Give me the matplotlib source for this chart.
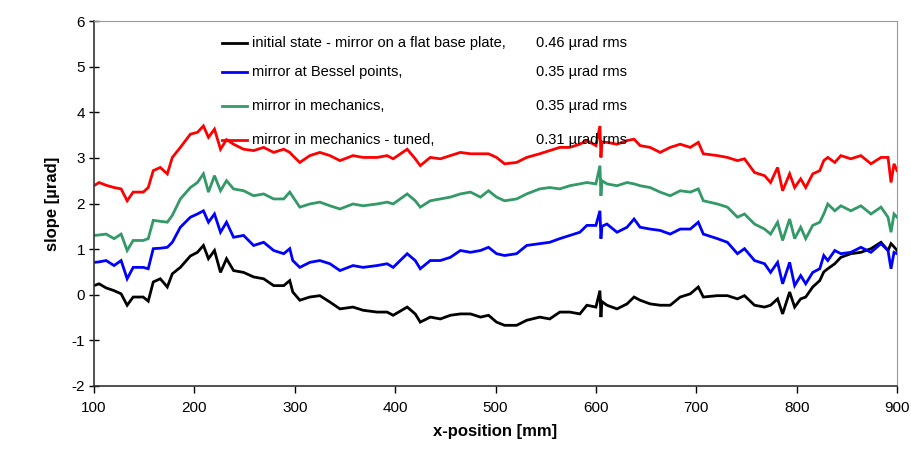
import matplotlib
matplotlib.use("Agg")
import matplotlib.pyplot as plt
from matplotlib.lines import Line2D

plt.rcParams['font.family'] = ['Liberation Sans', 'DejaVu Sans']
plt.rcParams['axes.unicode_minus'] = False

# x-position [mm]
x_pos = [100, 105, 112, 120, 127, 133, 139, 149, 154, 159,
         166, 173, 178, 186, 196, 203, 209, 214, 220, 226,
         232, 239, 249, 259, 269, 279, 289, 295, 298, 305,
         315, 325, 335, 345, 358, 368, 382, 392, 398, 412,
         420, 425, 435, 445, 455, 465, 475, 485, 493, 501,
         509, 521, 531, 544, 554, 564, 574, 584, 591, 600,
         604, 605, 606, 611, 621, 631, 638, 644, 654, 664,
         674, 684, 694, 702, 707, 721, 731, 741, 748, 758,
         768, 774, 781, 786, 793, 798, 804, 809, 816, 823,
         827, 831, 838, 844, 854, 864, 874, 884, 891, 894,
         897, 900]

# slope [urad], one list per measurement
initial = [0.20, 0.24, 0.15, 0.09, 0.02, -0.23, -0.05, -0.05, -0.14, 0.28,
           0.35, 0.17, 0.46, 0.60, 0.85, 0.93, 1.08, 0.79, 0.97, 0.49,
           0.79, 0.53, 0.49, 0.39, 0.35, 0.20, 0.20, 0.31, 0.06, -0.12,
           -0.05, -0.02, -0.16, -0.31, -0.27, -0.34, -0.38, -0.38, -0.45, -0.27,
           -0.42, -0.60, -0.49, -0.53, -0.45, -0.42, -0.42, -0.49, -0.45, -0.60,
           -0.67, -0.67, -0.56, -0.49, -0.53, -0.38, -0.38, -0.42, -0.23, -0.27,
           0.09, -0.49, -0.15, -0.23, -0.31, -0.20, -0.05, -0.12, -0.20, -0.23,
           -0.23, -0.05, 0.02, 0.17, -0.05, -0.02, -0.02, -0.09, -0.02, -0.23,
           -0.27, -0.23, -0.09, -0.42, 0.06, -0.27, -0.09, -0.05, 0.17, 0.31,
           0.50, 0.57, 0.68, 0.82, 0.90, 0.93, 1.01, 1.15, 0.97, 1.12,
           1.05, 0.97]

bessel = [0.71, 0.72, 0.75, 0.64, 0.75, 0.35, 0.60, 0.60, 0.57, 1.01,
          1.02, 1.04, 1.15, 1.48, 1.70, 1.77, 1.84, 1.59, 1.77, 1.37,
          1.59, 1.26, 1.30, 1.08, 1.15, 0.97, 0.90, 1.01, 0.75, 0.60,
          0.71, 0.75, 0.68, 0.53, 0.64, 0.60, 0.64, 0.68, 0.60, 0.90,
          0.75, 0.57, 0.75, 0.75, 0.82, 0.97, 0.93, 0.97, 1.04, 0.90,
          0.86, 0.90, 1.08, 1.12, 1.15, 1.23, 1.30, 1.37, 1.52, 1.52,
          1.84, 1.23, 1.50, 1.55, 1.37, 1.48, 1.66, 1.48, 1.44, 1.41,
          1.33, 1.44, 1.44, 1.59, 1.33, 1.23, 1.15, 0.90, 1.01, 0.75,
          0.68, 0.49, 0.71, 0.24, 0.71, 0.20, 0.42, 0.24, 0.49, 0.57,
          0.86, 0.75, 0.97, 0.90, 0.93, 1.04, 0.93, 1.12, 0.97, 0.57,
          0.93, 0.90]

mechanics = [1.30, 1.31, 1.33, 1.23, 1.33, 0.97, 1.19, 1.19, 1.23, 1.63,
             1.61, 1.59, 1.74, 2.10, 2.35, 2.46, 2.65, 2.25, 2.61, 2.28,
             2.50, 2.32, 2.28, 2.17, 2.21, 2.10, 2.10, 2.25, 2.15, 1.92,
             1.99, 2.03, 1.95, 1.88, 1.99, 1.95, 1.99, 2.03, 1.99, 2.21,
             2.06, 1.92, 2.06, 2.10, 2.14, 2.21, 2.25, 2.14, 2.28, 2.14,
             2.06, 2.10, 2.21, 2.32, 2.35, 2.32, 2.39, 2.43, 2.46, 2.43,
             2.83, 2.17, 2.50, 2.43, 2.39, 2.46, 2.43, 2.39, 2.35, 2.25,
             2.17, 2.28, 2.25, 2.32, 2.06, 1.99, 1.92, 1.70, 1.77, 1.55,
             1.44, 1.33, 1.59, 1.19, 1.66, 1.23, 1.48, 1.23, 1.52, 1.59,
             1.77, 1.99, 1.84, 1.95, 1.84, 1.95, 1.77, 1.92, 1.70, 1.37,
             1.77, 1.70]

tuned = [2.39, 2.46, 2.40, 2.35, 2.32, 2.06, 2.25, 2.25, 2.35, 2.72,
         2.79, 2.65, 3.01, 3.23, 3.52, 3.56, 3.70, 3.45, 3.63, 3.19,
         3.40, 3.30, 3.19, 3.16, 3.23, 3.12, 3.19, 3.12, 3.05, 2.90,
         3.05, 3.12, 3.05, 2.94, 3.05, 3.01, 3.01, 3.05, 2.98, 3.19,
         2.98, 2.83, 3.01, 2.98, 3.05, 3.12, 3.09, 3.09, 3.09, 3.01,
         2.87, 2.90, 3.01, 3.09, 3.16, 3.23, 3.23, 3.30, 3.38, 3.27,
         3.70, 3.01, 3.35, 3.34, 3.30, 3.38, 3.41, 3.27, 3.23, 3.12,
         3.23, 3.30, 3.23, 3.34, 3.09, 3.05, 3.01, 2.94, 2.98, 2.68,
         2.61, 2.46, 2.79, 2.28, 2.65, 2.35, 2.54, 2.35, 2.65, 2.72,
         2.94, 3.01, 2.90, 3.05, 2.98, 3.05, 2.87, 3.01, 3.01, 2.46,
         2.87, 2.72]

labels = ["initial state - mirror on a flat base plate,",
          "mirror at Bessel points,",
          "mirror in mechanics,",
          "mirror in mechanics - tuned,"]
rms = ["0.46 µrad rms", "0.35 µrad rms", "0.35 µrad rms", "0.31 µrad rms"]
colors = ["black", "#0000ff", "#339966", "#ff0000"]

fig = plt.figure(figsize=(9.12, 4.54), dpi=100)
ax = fig.add_axes([0.1031, 0.1498, 0.8805, 0.8039])

for ys, c in zip([initial, bessel, mechanics, tuned], colors):
    ax.plot(x_pos, ys, color=c, lw=2.0, solid_joinstyle='miter')

ax.set_xlim(100, 900)
ax.set_ylim(-2, 6)
ax.set_xticks(range(100, 901, 100))
ax.set_yticks(range(-2, 7))
ax.tick_params(axis='y', direction='inout', length=7, width=1, labelsize=11, pad=3)
ax.tick_params(axis='x', direction='out', length=5, width=1, labelsize=11, pad=6)
for s in ['top', 'right']:
    ax.spines[s].set_color('#999999')
for s in ['left', 'bottom']:
    ax.spines[s].set_color('#333333')
    ax.spines[s].set_linewidth(1.2)

ax.set_xlabel("x-position [mm]", fontsize=12, fontweight='bold', labelpad=6)
ax.set_ylabel("slope [µrad]", fontsize=12, fontweight='bold', labelpad=8)

# hand-placed legend like the original
rows = [0.94, 0.86, 0.767, 0.674]
for lab, r, c, yy in zip(labels, rms, colors, rows):
    ax.add_line(Line2D([0.159, 0.191], [yy, yy], transform=ax.transAxes,
                       color=c, lw=2.0))
    ax.text(0.197, yy, lab, transform=ax.transAxes, fontsize=10.5,
            va='center', ha='left')
    ax.text(0.551, yy, r, transform=ax.transAxes, fontsize=10.5,
            va='center', ha='left')

fig.savefig("out.png", dpi=100)
